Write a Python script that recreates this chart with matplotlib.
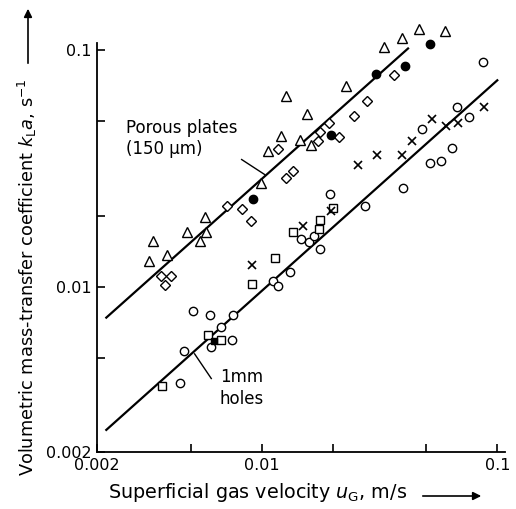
import matplotlib
matplotlib.use('Agg')
import matplotlib.pyplot as plt

# upper group: porous plates (150 um)
tri_u = [0.00345, 0.00334, 0.00395, 0.00481, 0.00572, 0.00578, 0.00548, 0.00997,
         0.01064, 0.01213, 0.01274, 0.01461, 0.01554, 0.01612, 0.02278, 0.03304,
         0.0393, 0.0467, 0.06005]
tri_k = [0.01561, 0.01285, 0.01362, 0.01699, 0.0198, 0.01699, 0.01561, 0.0274,
         0.03758, 0.04342, 0.06385, 0.04183, 0.05355, 0.03958, 0.0704, 0.1035,
         0.1124, 0.1224, 0.1204]
dia_u = [0.00374, 0.00414, 0.00388, 0.00715, 0.00822, 0.00904, 0.01173, 0.01269,
         0.01359, 0.01736, 0.01774, 0.01934, 0.02127, 0.02468, 0.02812, 0.03645]
dia_k = [0.01108, 0.01113, 0.01017, 0.022, 0.02134, 0.01891, 0.03806, 0.02876,
         0.03092, 0.04143, 0.04492, 0.04944, 0.04279, 0.05252, 0.06122, 0.07874]
dot_u = [0.00916, 0.01966, 0.0307, 0.04059, 0.05187]
dot_k = [0.02342, 0.04363, 0.07912, 0.08596, 0.1063]

# lower group: 1 mm holes
circ_u = [0.00448, 0.0047, 0.0051, 0.00605, 0.00611, 0.00674, 0.00751, 0.00755,
          0.01117, 0.01173, 0.01325, 0.01475, 0.0159, 0.01673, 0.01765, 0.01947,
          0.02744, 0.03969, 0.05162, 0.0576, 0.06416, 0.04781, 0.06739, 0.07548,
          0.08694]
circ_k = [0.00392, 0.00534, 0.00789, 0.00759, 0.00557, 0.00677, 0.00595, 0.00759,
          0.01062, 0.0101, 0.0115, 0.01597, 0.01551, 0.01645, 0.01444, 0.02461,
          0.02204, 0.02619, 0.03331, 0.03403, 0.03855, 0.0464, 0.05761, 0.05201,
          0.08877]
sq_u = [0.00379, 0.00591, 0.00674, 0.00913, 0.01139, 0.01359, 0.01753, 0.01765, 0.02011]
sq_k = [0.00381, 0.00624, 0.00595, 0.01023, 0.01327, 0.01699, 0.01756, 0.01917, 0.02161]
fsq_u = [0.00628]
fsq_k = [0.0059]
x_u = [0.00913, 0.01498, 0.0196, 0.02574, 0.03085, 0.0393, 0.04336, 0.05264,
       0.06067, 0.06779, 0.08806]
x_k = [0.01239, 0.01813, 0.02089, 0.03256, 0.03591, 0.03591, 0.04115, 0.05126,
       0.04764, 0.04905, 0.05733]

# correlation lines
line_up_u = [0.00219, 0.0418]
line_up_k = [0.0074, 0.1017]
line_lo_u = [0.00219, 0.1]
line_lo_k = [0.00248, 0.0746]

fig = plt.figure(figsize=(5.16, 5.09), dpi=100)
ax = fig.add_axes([0.188, 0.112, 0.791, 0.803])
ax.set_xscale('log')
ax.set_yscale('log')
ax.set_xlim(0.002, 0.108)
ax.set_ylim(0.002, 0.107)

ax.plot(line_up_u, line_up_k, color='black', lw=1.6)
ax.plot(line_lo_u, line_lo_k, color='black', lw=1.6)

mk = dict(linestyle='none', color='black', mfc='white', mec='black', mew=1.0, clip_on=False)
ax.plot(tri_u, tri_k, marker='^', ms=7, **mk)
ax.plot(dia_u, dia_k, marker='D', ms=5, **mk)
ax.plot(circ_u, circ_k, marker='o', ms=6, **mk)
ax.plot(sq_u, sq_k, marker='s', ms=5.5, **mk)
ax.plot(x_u, x_k, marker='x', ms=6, linestyle='none', color='black', mew=1.2, clip_on=False)
ax.plot(dot_u, dot_k, marker='o', ms=6, linestyle='none', color='black', clip_on=False)
ax.plot(fsq_u, fsq_k, marker='s', ms=5, linestyle='none', color='black', clip_on=False)

ax.text(0.00266, 0.0424, 'Porous plates\n(150 µm)', fontsize=12, va='center', ha='left',
        linespacing=1.25)
ax.plot([0.00822, 0.0103], [0.0345, 0.0298], color='black', lw=1.0)
ax.text(0.00663, 0.00373, '1mm\nholes', fontsize=12, va='center', ha='left', linespacing=1.25)
ax.plot([0.00519, 0.00611], [0.0052, 0.00409], color='black', lw=1.0)

ax.xaxis.set_minor_locator(matplotlib.ticker.NullLocator())
ax.yaxis.set_minor_locator(matplotlib.ticker.NullLocator())
ax.set_xticks([0.002, 0.005, 0.01, 0.02, 0.05, 0.1])
ax.set_xticklabels(['0.002', '', '0.01', '', '', '0.1'])
ax.set_yticks([0.002, 0.005, 0.01, 0.02, 0.05, 0.1])
ax.set_yticklabels(['0.002', '', '0.01', '', '', '0.1'])
ax.tick_params(direction='in', length=6, width=1.2, labelsize=11.5, pad=4)
ax.spines['top'].set_visible(False)
ax.spines['right'].set_visible(False)
for s in ['left', 'bottom']:
    ax.spines[s].set_linewidth(1.3)

fig.text(108 / 516, 1 - 493 / 509, r'Superficial gas velocity $u_\mathrm{G}$, m/s',
         fontsize=13.8, ha='left', va='center')
fig.add_artist(matplotlib.patches.FancyArrowPatch(
    (420 / 516, 1 - 496 / 509), (484 / 516, 1 - 496 / 509), transform=fig.transFigure,
    arrowstyle='-|>', mutation_scale=12, color='black', lw=1.2))
fig.text(27 / 516, 1 - 476 / 509,
         r'Volumetric mass-transfer coefficient $k_\mathrm{L}a$, s$^{-1}$',
         fontsize=12.8, ha='center', va='bottom', rotation=90)
fig.add_artist(matplotlib.patches.FancyArrowPatch(
    (28 / 516, 1 - 66 / 509), (28 / 516, 1 - 6 / 509), transform=fig.transFigure,
    arrowstyle='-|>', mutation_scale=12, color='black', lw=1.2))

fig.savefig('out.png', dpi=100)
